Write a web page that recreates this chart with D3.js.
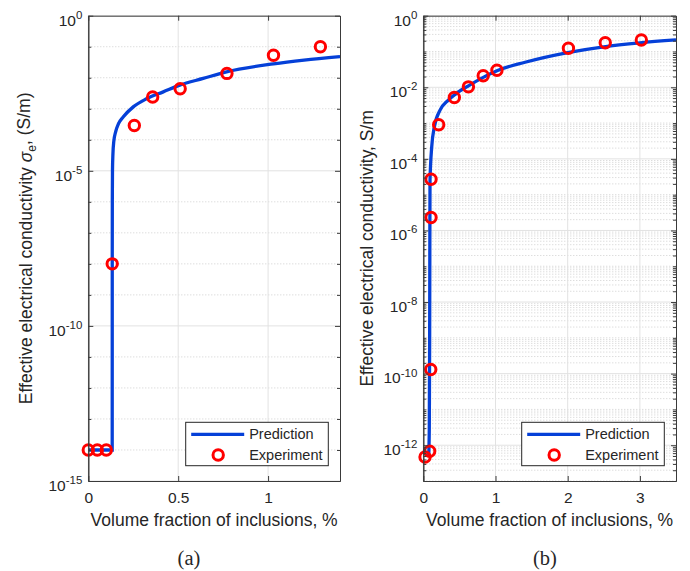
<!DOCTYPE html>
<html>
<head>
<meta charset="utf-8">
<title>Effective conductivity</title>
<script src="https://cdn.jsdelivr.net/npm/d3@7"></script>
<style>
html,body{margin:0;padding:0;background:#fff;}
text{font-family:"Liberation Sans",Arial,sans-serif;fill:#262626;}
.cap{font-family:"Liberation Serif","Times New Roman",serif;}
</style>
</head>
<body>
<script>
// panel (a)
var expA_x=[0,0.05,0.1,0.133,0.256,0.358,0.511,0.771,1.03,1.291];
var expA_y=[1e-14,1e-14,1e-14,1e-8,2.9e-4,2.4e-3,4.4e-3,1.38e-2,5.3e-2,1.0e-1];
var predA_x=[0,0.133,0.1332,0.1336,0.1345,0.137,0.142,0.152,0.168,0.195,0.25,0.324,0.417,0.509,0.639,0.769,1.03,1.2,1.4];
var predA_y=[1e-14,1e-14,1e-8,1e-6,1e-5,3.5e-5,9e-5,1.8e-4,3.3e-4,5.5e-4,1.15e-3,2.1e-3,3.5e-3,5.8e-3,9.5e-3,1.55e-2,2.8e-2,3.7e-2,4.8e-2];
var xTicksA=[0,0.5,1];
var yTicksA=[-15,-10,-5,0]; // exponents

// panel (b)
var expB_x=[0.024,0.088,0.103,0.107,0.107,0.213,0.43,0.625,0.83,1.02,2.01,2.52,3.02];
var expB_y=[4.7e-13,6.8e-13,1.3e-10,2.3e-6,2.7e-5,9e-4,5.2e-3,1.03e-2,2.1e-2,3.0e-2,0.123,0.176,0.209];
var predB_x=[0.075,0.083,0.088,0.091,0.093,0.117,0.153,0.232,0.347,0.486,0.625,0.811,1.02,1.41,2.0,2.5,3.0,3.5];
var predB_y=[5e-13,3e-12,1e-9,1e-6,2.5e-5,2.2e-4,7.9e-4,2.3e-3,4.4e-3,7.4e-3,1.1e-2,1.8e-2,2.9e-2,5.0e-2,9.3e-2,0.135,0.174,0.21];
var xTicksB=[0,1,2,3];
var yTicksB=[-12,-10,-8,-6,-4,-2,0];

var legendNames=["Prediction","Experiment"];

var svg=d3.select("body").append("svg")
	.attr("width",690)
	.attr("height",571);

function panel(o){
	var x=d3.scaleLinear().domain(o.xdom).range([o.l,o.r]);
	var y=d3.scaleLog().domain(o.ydom).range([o.b,o.t]);
	var g=svg.append("g");

	// minor ticks / grid values
	var lo=Math.round(Math.log10(o.ydom[0])),hi=Math.round(Math.log10(o.ydom[1]));
	var major=o.yticks.map(function(e){return Math.pow(10,e);});
	var minor=[];
	for(var k=lo;k<hi;k++){
		for(var m=1;m<10;m++){
			if(m>1&&!o.fineMinor)continue;
			var v=m*Math.pow(10,k);
			if(m==1&&o.yticks.indexOf(k)>=0)continue;
			minor.push(v);
		}
	}

	// grid
	g.selectAll(".gm").data(minor).enter().append("line")
	.attr("x1",o.l).attr("x2",o.r)
	.attr("y1",function(d){return y(d);}).attr("y2",function(d){return y(d);})
	.attr("stroke","#cfcfcf").attr("stroke-width",1).attr("stroke-dasharray","1,2");
	g.selectAll(".gy").data(major).enter().append("line")
	.attr("x1",o.l).attr("x2",o.r)
	.attr("y1",function(d){return y(d);}).attr("y2",function(d){return y(d);})
	.attr("stroke","#e2e2e2").attr("stroke-width",1);
	g.selectAll(".gx").data(o.xticks).enter().append("line")
	.attr("y1",o.t).attr("y2",o.b)
	.attr("x1",function(d){return x(d);}).attr("x2",function(d){return x(d);})
	.attr("stroke","#e2e2e2").attr("stroke-width",1);

	// clip
	var cid="clip"+o.id;
	svg.append("clipPath").attr("id",cid).append("rect")
	.attr("x",o.l).attr("y",o.t-4).attr("width",o.r-o.l).attr("height",o.b-o.t+4);

	// prediction line
	var pts=o.px.map(function(d,i){return [d,o.py[i]];});
	var line=d3.line()
	.x(function(d){return x(d[0]);})
	.y(function(d){return y(d[1]);})
	.curve(d3.curveMonotoneX);
	g.append("path")
	.attr("d",line(pts))
	.attr("clip-path","url(#"+cid+")")
	.attr("fill","none")
	.attr("stroke","#0540d8")
	.attr("stroke-width",3.3);

	// experiment circles
	var ex=o.ex.map(function(d,i){return [d,o.ey[i]];});
	g.selectAll(".pt").data(ex).enter().append("circle")
	.attr("cx",function(d){return x(d[0]);})
	.attr("cy",function(d){return y(d[1]);})
	.attr("r",5.2)
	.attr("fill","none")
	.attr("stroke","#ff0000")
	.attr("stroke-width",3);

	// axes (ticks inward, box)
	var ax=g.append("g").attr("transform","translate(0,"+o.b+")")
	.call(d3.axisBottom(x).tickValues(o.xticks).tickSize(-5).tickSizeOuter(0).tickPadding(11).tickFormat(d3.format("~g")));
	g.append("g").attr("transform","translate(0,"+o.t+")")
	.call(d3.axisTop(x).tickValues(o.xticks).tickSize(-5).tickSizeOuter(0).tickFormat(""));
	var ay=g.append("g").attr("transform","translate("+o.l+",0)")
	.call(d3.axisLeft(y).tickValues(major).tickSize(-5).tickSizeOuter(0).tickPadding(6).tickFormat(""));
	g.append("g").attr("transform","translate("+o.r+",0)")
	.call(d3.axisRight(y).tickValues(major).tickSize(-5).tickSizeOuter(0).tickFormat(""));
	g.append("g").attr("transform","translate("+o.l+",0)")
	.call(d3.axisLeft(y).tickValues(minor).tickSize(-3).tickSizeOuter(0).tickFormat(""));
	g.append("g").attr("transform","translate("+o.r+",0)")
	.call(d3.axisRight(y).tickValues(minor).tickSize(-3).tickSizeOuter(0).tickFormat(""));
	g.selectAll(".domain,.tick line").attr("stroke","#3a3a3a");
	g.selectAll(".tick text").attr("font-family",null);
	ax.selectAll("text").attr("font-size",15.5).attr("fill","#262626");

	// 10^n labels
	ay.selectAll(".tick text").each(function(d){
		var t=d3.select(this).attr("font-size",15.5).attr("fill","#262626").attr("dy","0.6em");
		t.append("tspan").text("10");
		t.append("tspan").attr("dy","-0.6em").attr("font-size",11.5).text(Math.round(Math.log10(d)));
	});

	// axis labels
	svg.append("text")
	.attr("x",(o.l+o.r)/2).attr("y",526)
	.attr("text-anchor","middle").attr("font-size",17.5)
	.text("Volume fraction of inclusions, %");
	var yl=svg.append("text")
	.attr("transform","translate("+o.ylx+","+(o.t+o.b)/2+") rotate(-90)")
	.attr("text-anchor","middle").attr("font-size",17.5);
	o.ylabel(yl);

	// legend
	var lx=o.r-154.3,ly=422.3;
	var lg=svg.append("g");
	lg.append("rect").attr("x",lx).attr("y",ly).attr("width",142.6).attr("height",43.4)
	.attr("fill","#fff").attr("stroke","#262626").attr("stroke-width",1);
	lg.append("line").attr("x1",lx+5.5).attr("x2",lx+58.5).attr("y1",ly+12).attr("y2",ly+12)
	.attr("stroke","#0540d8").attr("stroke-width",3.3);
	lg.append("circle").attr("cx",lx+32.5).attr("cy",ly+32.7).attr("r",5.2)
	.attr("fill","none").attr("stroke","#ff0000").attr("stroke-width",3);
	lg.selectAll(".lt").data(legendNames).enter().append("text")
	.attr("x",lx+63.5).attr("y",function(d,i){return ly+17+i*20.7;})
	.attr("font-size",14.5).text(function(d){return d;});

	// caption
	svg.append("text").attr("class","cap")
	.attr("x",o.capx).attr("y",565).attr("text-anchor","middle").attr("font-size",20.5)
	.attr("fill","#000").text(o.cap);
}

panel({
	id:"a",l:88.3,r:340,t:15.7,b:481,
	xdom:[0,1.4],ydom:[1e-15,1],
	xticks:xTicksA,yticks:yTicksA,fineMinor:false,
	px:predA_x,py:predA_y,ex:expA_x,ey:expA_y,
	ylx:32,capx:189,cap:"(a)",
	ylabel:function(t){
		t.append("tspan").text("Effective electrical conductivity ");
		t.append("tspan").attr("font-style","italic").text("σ");
		t.append("tspan").attr("dy","0.3em").attr("font-size",12).text("e");
		t.append("tspan").attr("dy","-0.3em").text(", (S/m)");
	}
});

panel({
	id:"b",l:423.3,r:676,t:15.7,b:481,
	xdom:[0,3.5],ydom:[1e-13,1],
	xticks:xTicksB,yticks:yTicksB,fineMinor:true,
	px:predB_x,py:predB_y,ex:expB_x,ey:expB_y,
	ylx:373,capx:545,cap:"(b)",
	ylabel:function(t){
		t.text("Effective electrical conductivity, S/m");
	}
});
</script>
</body>
</html>
